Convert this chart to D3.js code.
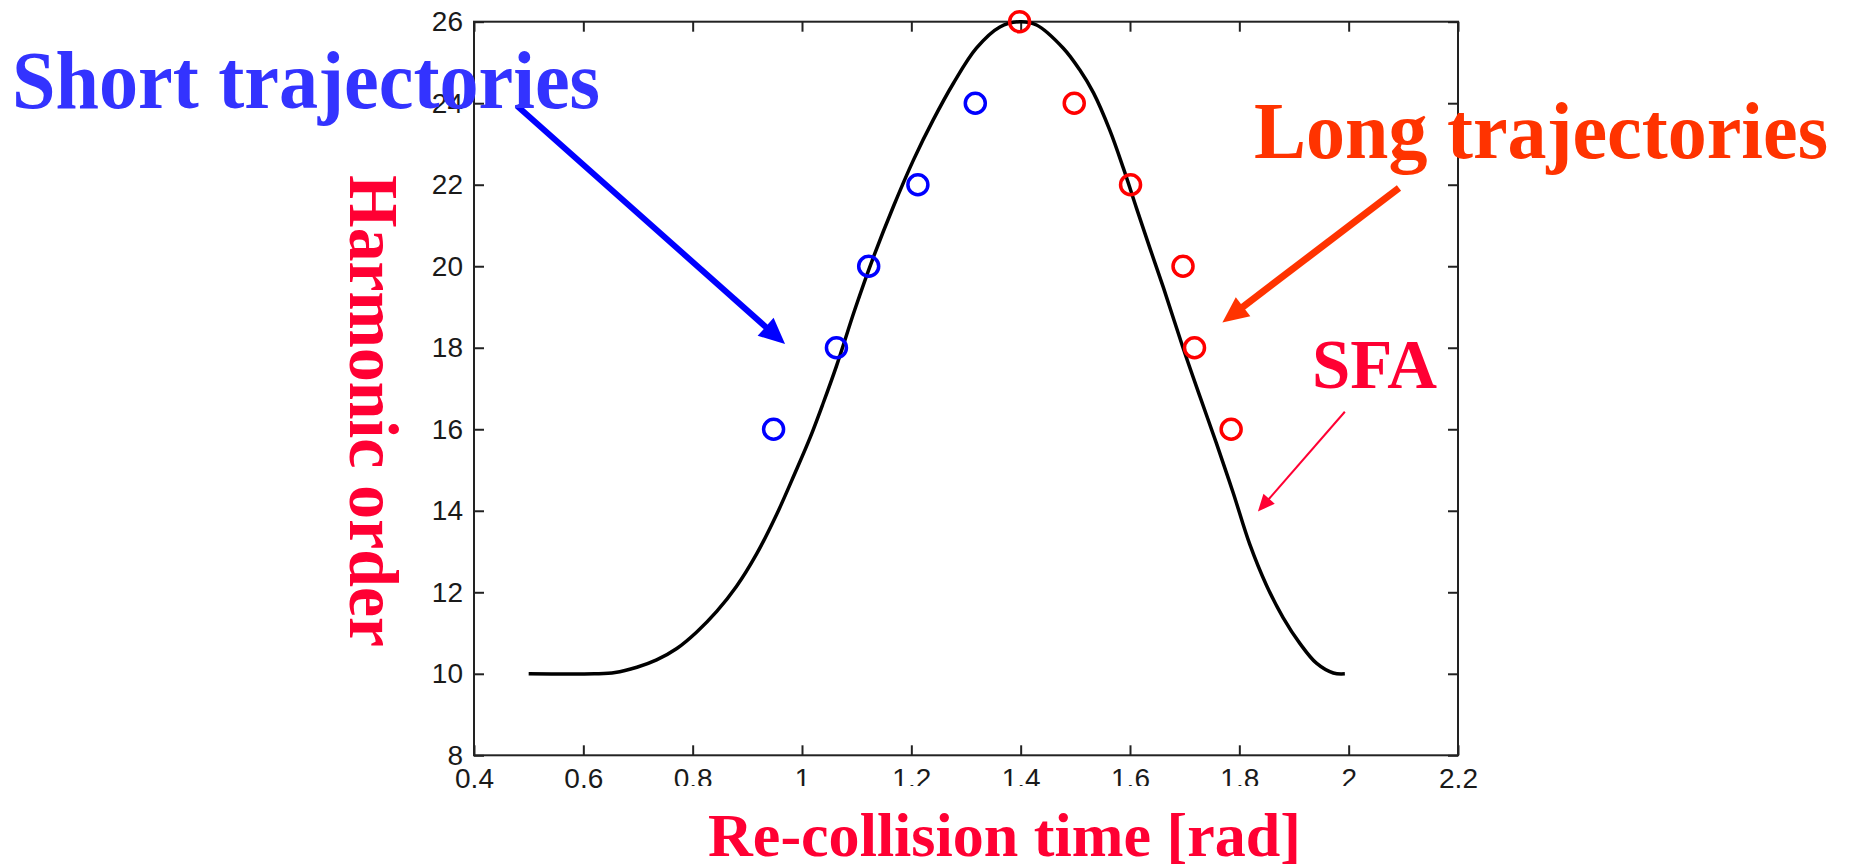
<!DOCTYPE html>
<html>
<head>
<meta charset="utf-8">
<script src="https://cdn.jsdelivr.net/npm/d3@7"></script>
<style>
  html, body { margin: 0; padding: 0; background: #fff; }
  svg { display: block; }
</style>
</head>
<body>
<div id="js_plot"></div>
<script>
// Axis ticks
const xTickValues = [0.4, 0.6, 0.8, 1, 1.2, 1.4, 1.6, 1.8, 2, 2.2];
const yTickValues = [8, 10, 12, 14, 16, 18, 20, 22, 24, 26];

// SFA curve
const sfaTime = [0.50, 0.62, 0.658, 0.698, 0.734, 0.771, 0.807, 0.844, 0.880, 0.917, 0.954, 0.987,
  1.015, 1.039, 1.063, 1.097, 1.130, 1.167, 1.204, 1.240, 1.277, 1.319, 1.362, 1.399, 1.429,
  1.478, 1.508, 1.533, 1.563, 1.588, 1.612, 1.637, 1.661, 1.697, 1.728, 1.758, 1.789, 1.819,
  1.850, 1.880, 1.911, 1.941, 1.972, 1.993];
const sfaOrder = [10.00, 10.00, 10.03, 10.16, 10.34, 10.62, 11.02, 11.53, 12.14, 12.94, 13.92, 14.92,
  15.80, 16.65, 17.55, 18.95, 20.20, 21.46, 22.61, 23.59, 24.49, 25.35, 25.87, 26.00, 25.92,
  25.35, 24.82, 24.26, 23.34, 22.40, 21.42, 20.42, 19.48, 18.00, 16.80, 15.66, 14.43, 13.18,
  12.16, 11.38, 10.74, 10.26, 10.02, 10.00];

// Short trajectories (blue circles)
const shortTime = [0.948, 1.063, 1.122, 1.212, 1.317];
const shortOrder = [16, 18, 20, 22, 24];

// Long trajectories (red circles)
const longTime = [1.398, 1.498, 1.601, 1.697, 1.718, 1.785];
const longOrder = [26, 24, 22, 20, 18, 16];

// Annotation arrows in data units: [fromTime, fromOrder, toTime, toOrder]
const shortArrow = [0.479, 23.93, 0.969, 18.09];
const longArrow = [2.092, 21.92, 1.769, 18.62];
const sfaArrow = [1.993, 16.43, 1.834, 13.98];

// Canvas
var width = 1850, height = 866;
var plot = {left: 474, right: 1458, top: 21.7, bottom: 755.3};

var svg = d3.select("#js_plot").append("svg")
    .attr("width", width)
    .attr("height", height);

var x = d3.scaleLinear().domain([0.4, 2.2]).range([plot.left, plot.right]);
var y = d3.scaleLinear().domain([8, 26]).range([plot.bottom, plot.top]);

var tickFont = "'Liberation Sans', Arial, sans-serif";
var serif = "'Liberation Serif', 'Times New Roman', serif";

// Axes, MATLAB style: inward ticks on all four sides
function styleAxis(g) {
    g.select(".domain").remove();
    g.selectAll(".tick line").attr("stroke", "#222").attr("stroke-width", 2);
    g.selectAll(".tick text")
        .attr("fill", "#1a1a1a")
        .style("font-family", tickFont)
        .style("font-size", "28px");
}

svg.append("g")
    .attr("transform", "translate(0," + plot.bottom + ")")
    .call(d3.axisBottom(x).tickValues(xTickValues).tickSize(-10).tickPadding(13).tickFormat(d => String(d)))
    .call(styleAxis);

svg.append("g")
    .attr("transform", "translate(" + plot.left + ",0)")
    .call(d3.axisLeft(y).tickValues(yTickValues).tickSize(-10).tickPadding(11).tickFormat(d => String(d)))
    .call(styleAxis);

svg.append("g")
    .attr("transform", "translate(0," + plot.top + ")")
    .call(d3.axisTop(x).tickValues(xTickValues).tickSize(-10).tickFormat(""))
    .call(styleAxis);

svg.append("g")
    .attr("transform", "translate(" + plot.right + ",0)")
    .call(d3.axisRight(y).tickValues(yTickValues).tickSize(-10).tickFormat(""))
    .call(styleAxis);

svg.append("rect")
    .attr("x", plot.left)
    .attr("y", plot.top)
    .attr("width", plot.right - plot.left)
    .attr("height", plot.bottom - plot.top)
    .attr("fill", "none")
    .attr("stroke", "#222")
    .attr("stroke-width", 2);

// SFA curve
const sfa = d3.range(sfaTime.length).map(i => ({t: sfaTime[i], h: sfaOrder[i]}));
svg.append("path")
    .datum(sfa)
    .attr("fill", "none")
    .attr("stroke", "#000")
    .attr("stroke-width", 3.5)
    .attr("stroke-linejoin", "round")
    .attr("d", d3.line().x(d => x(d.t)).y(d => y(d.h)).curve(d3.curveCatmullRom.alpha(0.5)));

// Circles
function circles(times, orders, color) {
    svg.append("g").selectAll("circle")
        .data(d3.range(times.length))
        .join("circle")
            .attr("cx", i => x(times[i]))
            .attr("cy", i => y(orders[i]))
            .attr("r", 10)
            .attr("fill", "none")
            .attr("stroke", color)
            .attr("stroke-width", 3.5);
}
circles(shortTime, shortOrder, "#0000ff");
circles(longTime, longOrder, "#ff0000");

// White box behind the x title (clips the bottom of the tick labels)
svg.append("rect")
    .attr("x", 656).attr("y", 786)
    .attr("width", 704).attr("height", 80)
    .attr("fill", "#fff");

// Arrows
function arrow(a, color, w, headLen, headHalf) {
    var x1 = x(a[0]), y1 = y(a[1]), x2 = x(a[2]), y2 = y(a[3]);
    var dx = x2 - x1, dy = y2 - y1, len = Math.sqrt(dx * dx + dy * dy);
    var ux = dx / len, uy = dy / len;
    var bx = x2 - ux * headLen, by = y2 - uy * headLen;
    svg.append("line")
        .attr("x1", x1).attr("y1", y1)
        .attr("x2", bx + ux * 2).attr("y2", by + uy * 2)
        .attr("stroke", color)
        .attr("stroke-width", w);
    svg.append("path")
        .attr("d", "M" + x2 + "," + y2 +
            "L" + (bx - uy * headHalf) + "," + (by + ux * headHalf) +
            "L" + (bx + uy * headHalf) + "," + (by - ux * headHalf) + "Z")
        .attr("fill", color);
}
arrow(shortArrow, "#0000ff", 6, 26, 12);
arrow(longArrow, "#ff3300", 7, 26, 12);
arrow(sfaArrow, "#ff0033", 2, 17, 7.5);

// Text labels
function label(txt, px, py, size, len, color, transform) {
    var t = svg.append("text")
        .attr("x", px)
        .attr("y", py)
        .attr("fill", color)
        .attr("textLength", len)
        .attr("lengthAdjust", "spacingAndGlyphs")
        .style("font-family", serif)
        .style("font-weight", "bold")
        .style("font-size", size + "px")
        .text(txt);
    if (transform) t.attr("transform", transform);
    return t;
}
label("Short trajectories", 12, 108, 82, 588, "#3333ff");
label("Long trajectories", 1254, 158, 80, 574, "#ff3300");
label("SFA", 1312, 388, 70, 125, "#ff0033");
label("Re-collision time [rad]", 708, 856, 62, 593, "#ff0033");
label("Harmonic order", 0, 0, 70, 472, "#ff0033", "translate(350,175) rotate(90)");
</script>
</body>
</html>
